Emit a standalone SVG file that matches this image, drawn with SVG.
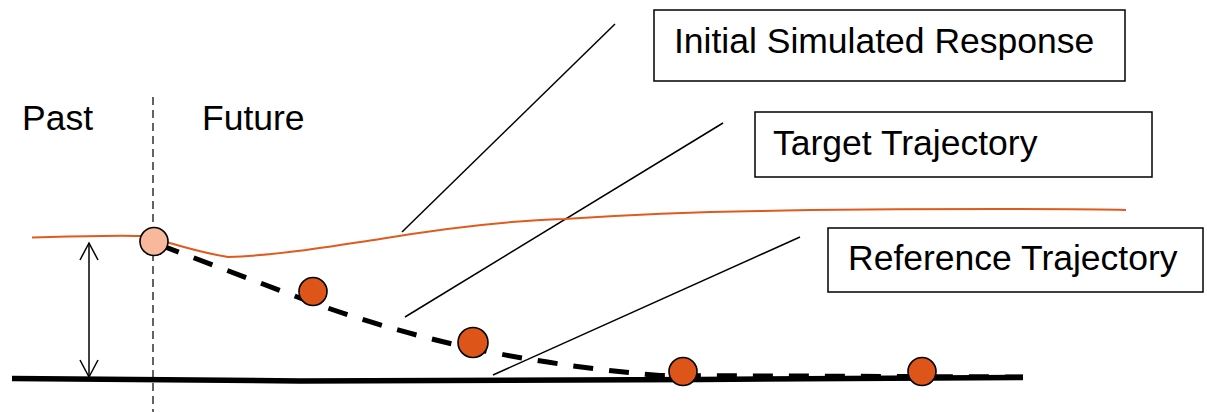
<svg xmlns="http://www.w3.org/2000/svg" width="1207" height="412" viewBox="0 0 1207 412">
<style>
  .lbl { font-family: "Liberation Sans", Arial, sans-serif; font-size: 35.5px; fill: #000; }
  .box { fill: #fff; stroke: #000; stroke-width: 1.5; }
  .leader { stroke: #000; stroke-width: 1.5; fill: none; }
  .pt { fill: #DD5519; stroke: #000; stroke-width: 1.6; }
</style>
<defs>
  <marker id="open" viewBox="0 0 20 20" refX="18" refY="10" markerWidth="20" markerHeight="20" markerUnits="userSpaceOnUse" orient="auto-start-reverse">
    <path d="M1,1 L18,10 L1,19" fill="none" stroke="#000" stroke-width="1.5"/>
  </marker>
</defs>
<rect width="1207" height="412" fill="#fff"/>

<g id="time-labels">
  <text class="lbl" x="22" y="130" font-size="38.5">Past</text>
  <text class="lbl" x="202" y="130" font-size="38.5">Future</text>
  <line x1="153" y1="97" x2="153" y2="412" stroke="#222" stroke-width="1.4" stroke-dasharray="8,5"/>
</g>

<g id="connectors">
  <line class="leader" x1="615" y1="24" x2="402" y2="232"/>
  <line class="leader" x1="723" y1="123" x2="405" y2="317"/>
  <line class="leader" x1="800" y1="237" x2="493" y2="375"/>
  <line x1="89" y1="243" x2="89" y2="377" stroke="#000" stroke-width="1.5" marker-start="url(#open)" marker-end="url(#open)"/>
</g>

<g id="reference-trajectory">
  <path d="M12,378.5 L300,381 L700,379.5 L1023,377.5" fill="none" stroke="#000" stroke-width="5.5"/>
</g>

<g id="initial-response">
  <path d="M32,237.5 C60,237 110,235 140,236 C160,238 185,250 228,257 C270,256 320,248 380,239 C440,229 500,221 564,219 C640,214 700,212 760,211 C850,209 950,209 1000,209 C1060,209 1100,209 1126,210" fill="none" stroke="#E05A1E" stroke-width="2"/>
</g>

<g id="target-trajectory">
  <path d="M160,245 L300,298 Q380,328 470,348 Q560,367 660,375.5 L1023,377" fill="none" stroke="#000" stroke-width="5" stroke-dasharray="20,16"/>
</g>

<g id="points">
  <circle cx="154" cy="241.5" r="14" fill="#F7B89C" stroke="#000" stroke-width="1.6"/>
  <circle class="pt" cx="313" cy="291.5" r="14"/>
  <circle class="pt" cx="473" cy="342.5" r="15"/>
  <circle class="pt" cx="683" cy="371.5" r="14"/>
  <circle class="pt" cx="922" cy="371.5" r="14"/>
</g>

<g id="box-initial">
  <rect class="box" x="654" y="10" width="471" height="71"/>
  <text class="lbl" x="674" y="53">Initial Simulated Response</text>
</g>

<g id="box-target">
  <rect class="box" x="755" y="112" width="397" height="65"/>
  <text class="lbl" x="773" y="155" font-size="36">Target Trajectory</text>
</g>

<g id="box-reference">
  <rect class="box" x="828" y="228" width="375" height="64"/>
  <text class="lbl" x="848" y="270">Reference Trajectory</text>
</g>
</svg>
